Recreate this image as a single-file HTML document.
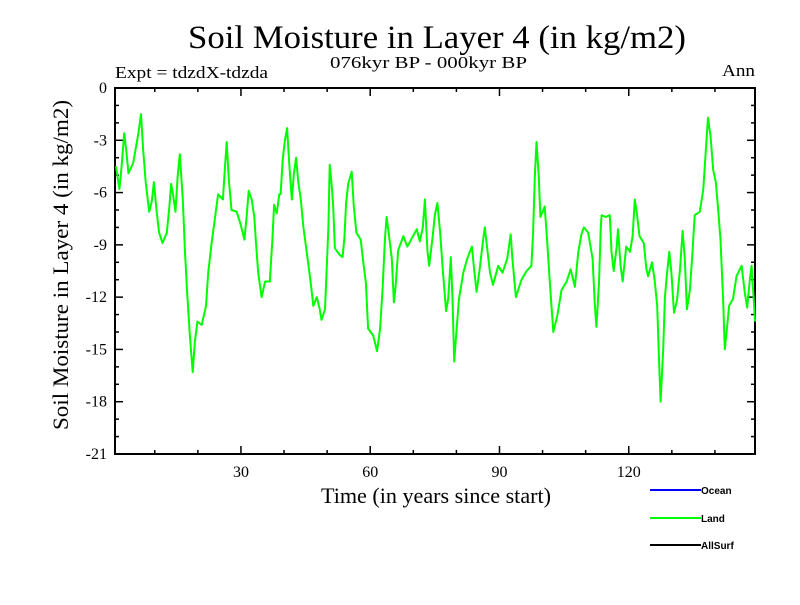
<!DOCTYPE html>
<html><head><meta charset="utf-8"><style>
body{margin:0;background:#fff;}
svg text{font-family:"Liberation Serif",serif;fill:#000;}
</style></head><body>
<svg id="chart" width="800" height="600" viewBox="0 0 800 600" xmlns="http://www.w3.org/2000/svg">
<text x="188" y="48" font-size="33" textLength="498" lengthAdjust="spacingAndGlyphs">Soil Moisture in Layer 4 (in kg/m2)</text>
<text x="330" y="68" font-size="17" textLength="197" lengthAdjust="spacingAndGlyphs">076kyr BP - 000kyr BP</text>
<text x="115" y="78" font-size="17" textLength="153" lengthAdjust="spacingAndGlyphs">Expt = tdzdX-tdzda</text>
<text x="722" y="76" font-size="17" textLength="33" lengthAdjust="spacingAndGlyphs">Ann</text>
<text transform="translate(68,265) rotate(-90)" font-size="22" text-anchor="middle" textLength="330" lengthAdjust="spacingAndGlyphs">Soil Moisture in Layer 4 (in kg/m2)</text>
<text x="321" y="503" font-size="22" textLength="230" lengthAdjust="spacingAndGlyphs">Time (in years since start)</text>
<g id="axes"></g>
<g id="series"></g>
<g>
 <g><line x1="650" y1="490" x2="701" y2="490" stroke="#0000ff" stroke-width="2"/><text x="701" y="494" font-size="10" font-weight="bold" style="font-family:'Liberation Sans',sans-serif">Ocean</text></g>
 <g><line x1="650" y1="518" x2="701" y2="518" stroke="#00ff00" stroke-width="2"/><text x="701" y="522" font-size="10" font-weight="bold" style="font-family:'Liberation Sans',sans-serif">Land</text></g>
 <g><line x1="650" y1="545" x2="701" y2="545" stroke="#000" stroke-width="2"/><text x="701" y="549" font-size="10" font-weight="bold" style="font-family:'Liberation Sans',sans-serif">AllSurf</text></g>
</g>
</svg>
<script>
const landTimes=[1.0,1.8,2.3,2.9,3.3,3.9,5.0,6.2,6.8,7.3,7.9,8.7,9.3,9.8,10.4,11.0,11.8,12.8,13.4,13.8,14.3,14.8,15.3,15.8,16.5,17.0,17.5,18.2,18.8,19.3,19.9,20.9,21.9,22.4,23.2,24.0,24.7,25.8,26.3,26.7,27.2,27.8,29.0,29.9,30.8,31.3,31.8,32.5,33.1,33.5,34.0,34.8,35.6,36.7,37.3,37.7,38.3,38.9,39.2,39.7,40.2,40.7,41.2,41.8,42.3,42.8,43.3,43.9,44.5,45.1,45.8,46.4,46.8,47.6,48.2,48.7,49.5,50.0,50.3,50.6,51.1,51.4,51.8,53.0,53.6,54.0,54.4,54.9,55.7,56.2,56.8,57.8,58.4,59.0,59.5,60.7,61.6,62.3,62.9,63.4,63.8,64.3,65.0,65.5,65.9,66.5,67.7,68.6,70.8,71.5,72.2,72.7,73.3,73.7,74.5,75.0,75.6,76.2,76.9,77.6,78.1,78.7,79.1,79.5,80.0,80.6,81.6,82.5,83.6,84.1,84.7,85.5,86.1,86.6,87.1,87.8,88.5,89.7,90.7,91.8,92.6,93.0,93.8,95.1,96.3,97.4,97.8,98.2,98.6,99.1,99.5,100.5,101.1,101.7,102.5,103.4,104.4,105.6,106.5,107.5,108.3,109.0,109.6,110.6,111.6,112.1,112.5,113.1,113.5,113.7,114.7,115.6,116.0,116.5,117.2,117.5,118.1,118.6,119.4,120.3,120.9,121.4,121.9,122.5,123.5,124.1,124.5,125.4,126.0,126.6,127.0,127.4,128.0,128.4,128.9,129.4,129.9,130.5,131.2,131.9,132.5,133.0,133.5,134.2,134.8,135.3,136.5,137.3,137.9,138.4,139.0,139.6,140.2,140.7,141.3,141.9,142.3,142.7,143.3,144.2,145.0,146.2,146.9,147.5,148.1,148.5,149.0,149.3];
const landValues=[-4.5,-5.8,-4.5,-2.6,-3.4,-4.9,-4.3,-2.6,-1.5,-3.5,-5.4,-7.1,-6.5,-5.4,-7.0,-8.3,-8.9,-8.3,-6.8,-5.5,-6.2,-7.1,-5.1,-3.8,-6.4,-9.3,-11.7,-14.4,-16.3,-14.6,-13.4,-13.6,-12.5,-10.6,-8.9,-7.4,-6.1,-6.4,-4.5,-3.1,-5.3,-7.0,-7.1,-7.8,-8.7,-7.4,-5.9,-6.4,-7.4,-8.9,-10.6,-12.0,-11.1,-11.1,-8.7,-6.7,-7.2,-6.1,-6.1,-4.1,-3.0,-2.3,-4.3,-6.4,-4.9,-4.0,-5.4,-6.4,-8.0,-9.1,-10.4,-11.6,-12.5,-12.0,-12.6,-13.3,-12.7,-9.8,-8.0,-4.4,-5.7,-6.8,-9.2,-9.6,-9.7,-8.6,-6.6,-5.5,-4.8,-6.8,-8.3,-8.7,-10.0,-11.2,-13.8,-14.2,-15.1,-13.8,-11.4,-8.7,-7.4,-8.3,-9.8,-12.3,-11.4,-9.3,-8.5,-9.1,-8.1,-8.8,-8.0,-6.4,-9.4,-10.2,-8.5,-7.3,-6.6,-8.2,-10.6,-12.8,-12.1,-9.7,-12.1,-15.7,-14.0,-12.1,-10.6,-9.8,-9.1,-10.4,-11.7,-10.2,-8.9,-8.0,-9.1,-10.6,-11.3,-10.2,-10.6,-9.8,-8.4,-9.8,-12.0,-11.0,-10.5,-10.2,-8.3,-5.1,-3.1,-5.0,-7.4,-6.8,-8.9,-11.2,-14.0,-13.1,-11.6,-11.1,-10.4,-11.4,-9.4,-8.4,-8.0,-8.3,-9.8,-12.3,-13.7,-11.2,-8.1,-7.3,-7.4,-7.3,-9.4,-10.5,-9.1,-8.1,-10.2,-11.1,-9.1,-9.4,-8.5,-6.4,-7.2,-8.5,-8.9,-10.4,-10.8,-10.0,-11.0,-12.5,-15.4,-18.0,-15.0,-12.0,-10.6,-9.4,-10.6,-12.9,-12.2,-10.4,-8.2,-9.8,-12.7,-11.6,-9.4,-7.3,-7.1,-5.8,-3.5,-1.7,-2.8,-4.7,-5.4,-6.8,-8.7,-12.1,-15.0,-14.0,-12.5,-12.1,-10.8,-10.2,-11.7,-12.6,-11.0,-10.2,-12.1,-13.4];
const xTickValues=[30,60,90,120];
const yTickValues=[0,-3,-6,-9,-12,-15,-18,-21];
const xMin=0.77,xMax=149.3,yMin=-21,yMax=0;
const L=115,R=755,T=88,B=454;
const NS="http://www.w3.org/2000/svg";
function sx(t){return L+(t-xMin)/(xMax-xMin)*(R-L);}
function sy(v){return T+(yMax-v)/(yMax-yMin)*(B-T);}
function mk(tag,attrs,parent){const e=document.createElementNS(NS,tag);for(const k in attrs)e.setAttribute(k,attrs[k]);parent.appendChild(e);return e;}
const axes=document.getElementById('axes');
const frame=mk('rect',{x:L,y:T,width:R-L,height:B-T,fill:'none',stroke:'#000','stroke-width':2},axes);


for(let v=yMin;v<=yMax;v++){
  const major=(v%3===0);const len=major?8:4;const y=sy(v);
  const t1=mk('line',{x1:L,y1:y,x2:L+len,y2:y,stroke:'#000','stroke-width':1.5},axes);
  
  
  const t2=mk('line',{x1:R,y1:y,x2:R-len,y2:y,stroke:'#000','stroke-width':1.5},axes);
  
  
}
yTickValues.forEach(v=>{
  const tx=mk('text',{x:L-8,y:sy(v)+5,'font-size':16,'text-anchor':'end'},axes);
  tx.textContent=String(v);
  
  
});
for(let t=10;t<xMax;t+=10){
  const major=(t%30===0);const len=major?8:4;const x=sx(t);
  const a=mk('line',{x1:x,y1:B,x2:x,y2:B-len,stroke:'#000','stroke-width':1.5},axes);
  
  
  const b=mk('line',{x1:x,y1:T,x2:x,y2:T+len,stroke:'#000','stroke-width':1.5},axes);
  
  
}
xTickValues.forEach(t=>{
  const tx=mk('text',{x:sx(t),y:B+23,'font-size':16,'text-anchor':'middle'},axes);
  tx.textContent=String(t);
  
  
});
const series=document.getElementById('series');
const pts=landTimes.map((t,i)=>sx(t).toFixed(1)+','+sy(landValues[i]).toFixed(1)).join(' ');
const line=mk('polyline',{points:pts,fill:'none',stroke:'#00ff00','stroke-width':2,'stroke-linejoin':'round'},series);


</script>
</body></html>
